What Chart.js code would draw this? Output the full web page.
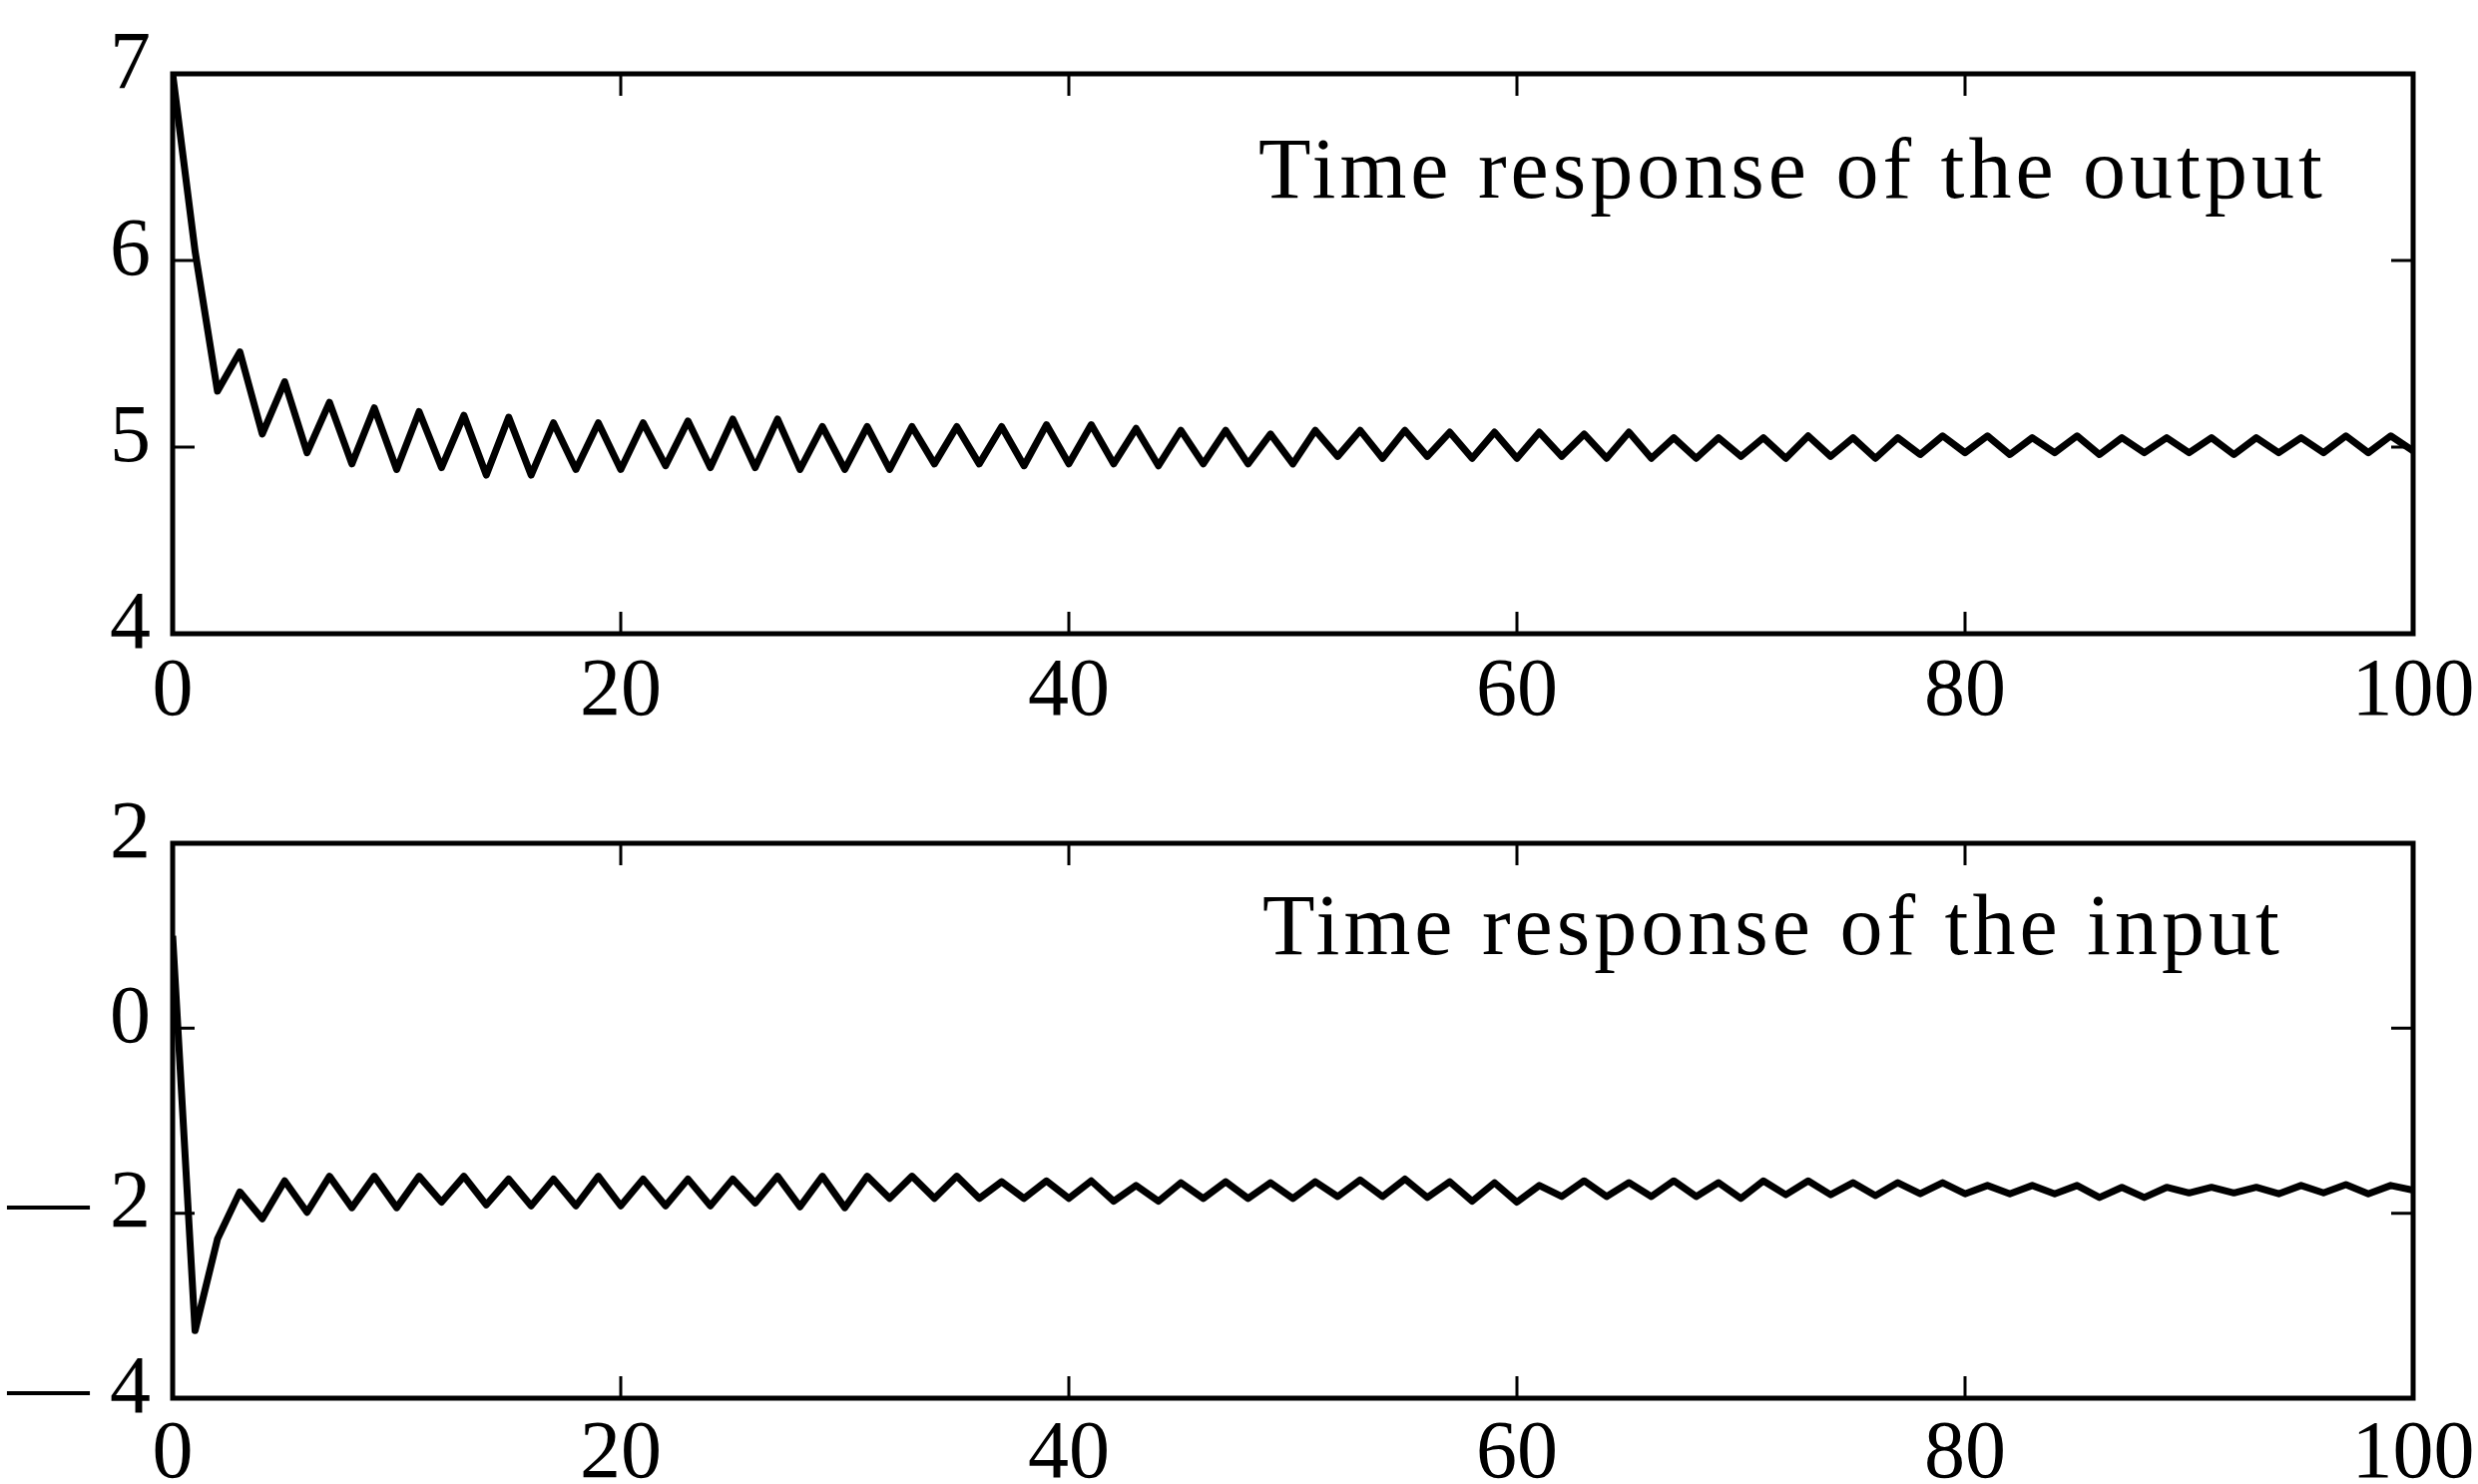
<!DOCTYPE html>
<html>
<head>
<meta charset="utf-8">
<script src="https://cdn.jsdelivr.net/npm/chart.js@4"></script>
<style>
  html, body { margin: 0; padding: 0; background: #fff; }
  #wrap { position: relative; width: 2483px; height: 1487px; overflow: hidden; }
  canvas { position: absolute; left: 0; }
  #outputChart { top: 0; }
  #inputChart { top: 760px; }
</style>
</head>
<body>
<div id="wrap">
  <canvas id="outputChart" width="2483" height="760"></canvas>
  <canvas id="inputChart" width="2483" height="727"></canvas>
</div>
<script>
const timeSteps = [
  0, 1, 2, 3, 4, 5, 6, 7, 8, 9,
  10, 11, 12, 13, 14, 15, 16, 17, 18, 19,
  20, 21, 22, 23, 24, 25, 26, 27, 28, 29,
  30, 31, 32, 33, 34, 35, 36, 37, 38, 39,
  40, 41, 42, 43, 44, 45, 46, 47, 48, 49,
  50, 51, 52, 53, 54, 55, 56, 57, 58, 59,
  60, 61, 62, 63, 64, 65, 66, 67, 68, 69,
  70, 71, 72, 73, 74, 75, 76, 77, 78, 79,
  80, 81, 82, 83, 84, 85, 86, 87, 88, 89,
  90, 91, 92, 93, 94, 95, 96, 97, 98, 99,
  100,
];

const outputValues = [
  7.0, 6.05, 5.30, 5.51, 5.07, 5.35, 4.97, 5.24, 4.91, 5.21,
  4.88, 5.19, 4.89, 5.17, 4.85, 5.16, 4.85, 5.13, 4.88, 5.13,
  4.88, 5.13, 4.90, 5.14, 4.89, 5.15, 4.89, 5.15, 4.88, 5.11,
  4.88, 5.11, 4.88, 5.11, 4.91, 5.11, 4.91, 5.11, 4.90, 5.12,
  4.91, 5.12, 4.91, 5.10, 4.90, 5.09, 4.91, 5.09, 4.91, 5.07,
  4.91, 5.09, 4.95, 5.09, 4.94, 5.09, 4.95, 5.08, 4.94, 5.08,
  4.94, 5.08, 4.95, 5.07, 4.94, 5.08, 4.94, 5.05, 4.94, 5.05,
  4.95, 5.05, 4.94, 5.06, 4.95, 5.05, 4.94, 5.05, 4.96, 5.06,
  4.97, 5.06, 4.96, 5.05, 4.97, 5.06, 4.96, 5.05, 4.97, 5.05,
  4.97, 5.05, 4.96, 5.05, 4.97, 5.05, 4.97, 5.06, 4.97, 5.06,
  4.98,
];

const inputValues = [
  1.0, -3.27, -2.28, -1.77, -2.06, -1.65, -1.99, -1.60, -1.94, -1.60,
  -1.94, -1.60, -1.88, -1.60, -1.91, -1.63, -1.92, -1.63, -1.92, -1.60,
  -1.92, -1.63, -1.92, -1.63, -1.92, -1.63, -1.89, -1.60, -1.93, -1.60,
  -1.94, -1.60, -1.84, -1.60, -1.84, -1.60, -1.84, -1.66, -1.84, -1.65,
  -1.84, -1.65, -1.87, -1.70, -1.87, -1.67, -1.84, -1.66, -1.84, -1.67,
  -1.84, -1.66, -1.82, -1.64, -1.82, -1.63, -1.83, -1.66, -1.87, -1.67,
  -1.88, -1.70, -1.82, -1.65, -1.82, -1.67, -1.82, -1.65, -1.82, -1.67,
  -1.84, -1.65, -1.80, -1.65, -1.80, -1.67, -1.81, -1.67, -1.79, -1.67,
  -1.79, -1.70, -1.79, -1.70, -1.79, -1.70, -1.83, -1.72, -1.83, -1.72,
  -1.78, -1.72, -1.78, -1.72, -1.79, -1.70, -1.78, -1.69, -1.79, -1.70,
  -1.75,
];

const xTicks = [0, 20, 40, 60, 80, 100];
const outputTicks = [4, 5, 6, 7];
const inputTicks = [-4, -2, 0, 2];

const outputNote = "Time response of the output";
const inputNote = "Time response of the input";

const FONT = "'Liberation Serif', 'Times New Roman', serif";
const TICK_LEN = 22;

// box round the plot with short ticks pointing inward on all four sides
const framePlugin = {
  id: "frame",
  afterDatasetsDraw(chart) {
    const { ctx, chartArea } = chart;
    const { left, top, right, bottom } = chartArea;
    const xScale = chart.scales.x;
    const yScale = chart.scales.y;

    ctx.save();
    ctx.strokeStyle = "#000";
    ctx.lineWidth = 3;
    ctx.beginPath();
    xScale.ticks.forEach((tick) => {
      if (tick.value <= xScale.min || tick.value >= xScale.max) return;
      const px = xScale.getPixelForValue(tick.value);
      ctx.moveTo(px, bottom);
      ctx.lineTo(px, bottom - TICK_LEN);
      ctx.moveTo(px, top);
      ctx.lineTo(px, top + TICK_LEN);
    });
    yScale.ticks.forEach((tick) => {
      if (tick.value <= yScale.min || tick.value >= yScale.max) return;
      const py = yScale.getPixelForValue(tick.value);
      ctx.moveTo(left, py);
      ctx.lineTo(left + TICK_LEN, py);
      ctx.moveTo(right, py);
      ctx.lineTo(right - TICK_LEN, py);
    });
    ctx.stroke();

    ctx.lineWidth = 5;
    ctx.strokeRect(left, top, right - left, bottom - top);
    ctx.restore();
  },
};

const notePlugin = {
  id: "note",
  afterDraw(chart, args, options) {
    const { ctx, chartArea } = chart;
    ctx.save();
    ctx.fillStyle = "#000";
    ctx.font = "86px " + FONT;
    ctx.letterSpacing = "4px";
    ctx.textAlign = "left";
    ctx.textBaseline = "alphabetic";
    ctx.fillText(options.text, chartArea.left + options.dx, chartArea.top + options.dy);
    ctx.restore();
  },
};

function minusLabel(value) {
  return value < 0 ? "\u2014 " + Math.abs(value) : String(value);
}

function makeChart(canvasId, values, yTicks, note, layout) {
  return new Chart(document.getElementById(canvasId), {
    type: "line",
    plugins: [framePlugin, notePlugin],
    data: {
      labels: timeSteps,
      datasets: [
        {
          data: values,
          borderColor: "#000",
          borderWidth: 7,
          borderJoinStyle: "round",
          pointRadius: 0,
          tension: 0,
          fill: false,
        },
      ],
    },
    options: {
      responsive: false,
      animation: false,
      devicePixelRatio: 1,
      layout: {
        padding: { top: layout.top, right: 65, bottom: 0, left: 0 },
      },
      plugins: {
        legend: { display: false },
        tooltip: { enabled: false },
        note: { text: note, dx: layout.noteX, dy: layout.noteY },
      },
      scales: {
        x: {
          type: "linear",
          min: xTicks[0],
          max: xTicks[xTicks.length - 1],
          afterBuildTicks: (scale) => {
            scale.ticks = xTicks.map((v) => ({ value: v }));
          },
          afterFit: (scale) => {
            scale.height = layout.xHeight;
            // the "100" label may run into the right margin, as in the print
            scale.paddingLeft = 0;
            scale.paddingRight = 0;
          },
          grid: { display: false, drawTicks: false },
          border: { display: false },
          ticks: {
            color: "#000",
            font: { family: FONT, size: 82 },
            padding: layout.xPad,
            maxRotation: 0,
            autoSkip: false,
          },
        },
        y: {
          min: yTicks[0],
          max: yTicks[yTicks.length - 1],
          afterBuildTicks: (scale) => {
            scale.ticks = yTicks.map((v) => ({ value: v }));
          },
          afterFit: (scale) => {
            scale.width = 173;
          },
          grid: { display: false, drawTicks: false },
          border: { display: false },
          ticks: {
            color: "#000",
            font: { family: FONT, size: 82 },
            padding: 22,
            labelOffset: -8,
            callback: minusLabel,
          },
        },
      },
    },
  });
}

makeChart("outputChart", outputValues, outputTicks, outputNote, {
  top: 74,
  xHeight: 760 - 635,
  xPad: 10,
  noteX: 1088,
  noteY: 124,
});

makeChart("inputChart", inputValues, inputTicks, inputNote, {
  top: 85,
  xHeight: 727 - 641,
  xPad: 8,
  noteX: 1092,
  noteY: 111,
});
</script>
</body>
</html>
